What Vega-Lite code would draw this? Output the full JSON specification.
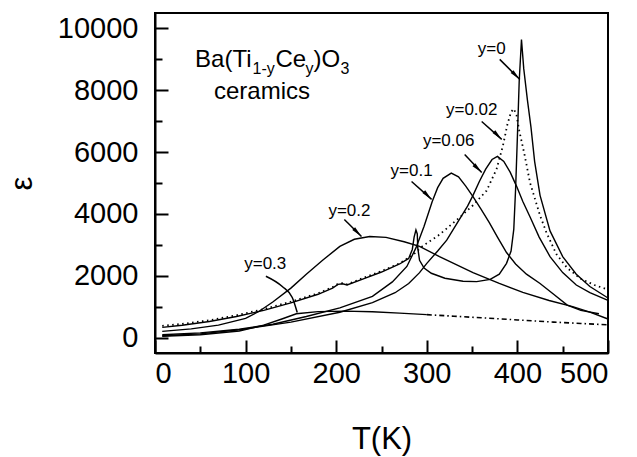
{
  "$schema": "https://vega.github.io/schema/vega-lite/v6.json",
  "width": 453,
  "height": 340,
  "autosize": {"type": "none"},
  "padding": {"left": 155, "top": 13, "right": 29, "bottom": 104},
  "background": "white",
  "config": {
    "view": {"stroke": "black", "strokeWidth": 2},
    "font": "Liberation Sans",
    "axis": {
      "domainColor": "black", "domainWidth": 2, "tickColor": "black", "tickWidth": 2,
      "grid": false, "labelColor": "black", "titleColor": "black", "labelFont": "Liberation Sans",
      "titleFont": "Liberation Sans", "titleFontWeight": "normal", "labelFontSize": 29, "titleFontSize": 31
    }
  },
  "encoding": {
    "x": {"field": "T", "type": "quantitative", "scale": {"domain": [0, 500], "nice": false, "zero": false},
      "axis": {"title": "T(K)", "values": [0,50,100,150,200,250,300,350,400,450,500], "format": "d",
        "labelExpr": "datum.value % 100 === 0 ? datum.label : ''",
        "tickSize": {"condition": {"test": "datum.value % 100 !== 0", "value": -7}, "value": -13},
        "labelPadding": 19, "titlePadding": 36}},
    "y": {"field": "e", "type": "quantitative", "scale": {"domain": [-500, 10500], "nice": false, "zero": false},
      "axis": {"title": "ε", "values": [0,1000,2000,3000,4000,5000,6000,7000,8000,9000,10000], "format": "d",
        "labelExpr": "datum.value % 2000 === 0 ? datum.label : ''",
        "tickSize": {"condition": {"test": "datum.value % 2000 !== 0", "value": -7}, "value": -13},
        "labelPadding": 30, "titlePadding": 19}}
  },
  "datasets": {
    "curves": [
      {"s":"y0","i":1,"T":8,"e":330},{"s":"y0","i":2,"T":30,"e":400},{"s":"y0","i":3,"T":60,"e":520},{"s":"y0","i":4,"T":90,"e":680},{"s":"y0","i":5,"T":120,"e":880},{"s":"y0","i":6,"T":150,"e":1120},{"s":"y0","i":7,"T":180,"e":1400},{"s":"y0","i":8,"T":196,"e":1600},{"s":"y0","i":9,"T":202,"e":1720},{"s":"y0","i":10,"T":207,"e":1740},{"s":"y0","i":11,"T":212,"e":1700},{"s":"y0","i":12,"T":230,"e":1900},{"s":"y0","i":13,"T":250,"e":2120},{"s":"y0","i":14,"T":270,"e":2380},{"s":"y0","i":15,"T":280,"e":2560},{"s":"y0","i":16,"T":284,"e":2850},{"s":"y0","i":17,"T":286,"e":3250},{"s":"y0","i":18,"T":288,"e":3480},{"s":"y0","i":19,"T":289.5,"e":3350},{"s":"y0","i":20,"T":290,"e":2900},{"s":"y0","i":21,"T":292,"e":2500},{"s":"y0","i":22,"T":297,"e":2250},{"s":"y0","i":23,"T":305,"e":2080},{"s":"y0","i":24,"T":320,"e":1920},{"s":"y0","i":25,"T":340,"e":1820},{"s":"y0","i":26,"T":355,"e":1810},{"s":"y0","i":27,"T":370,"e":1880},{"s":"y0","i":28,"T":380,"e":2050},{"s":"y0","i":29,"T":388,"e":2400},{"s":"y0","i":30,"T":393,"e":2800},{"s":"y0","i":31,"T":396,"e":3500},{"s":"y0","i":32,"T":398,"e":4800},{"s":"y0","i":33,"T":400,"e":6500},{"s":"y0","i":34,"T":402,"e":8300},{"s":"y0","i":35,"T":404.5,"e":9640},{"s":"y0","i":36,"T":407,"e":8700},{"s":"y0","i":37,"T":411,"e":7700},{"s":"y0","i":38,"T":415,"e":6800},{"s":"y0","i":39,"T":419,"e":5700},{"s":"y0","i":40,"T":425,"e":4600},{"s":"y0","i":41,"T":436,"e":3450},{"s":"y0","i":42,"T":450,"e":2620},{"s":"y0","i":43,"T":465,"e":2050},{"s":"y0","i":44,"T":480,"e":1650},{"s":"y0","i":45,"T":500,"e":1280},

      {"s":"y02","i":1,"T":8,"e":380},{"s":"y02","i":2,"T":30,"e":440},{"s":"y02","i":3,"T":60,"e":560},{"s":"y02","i":4,"T":90,"e":720},{"s":"y02","i":5,"T":120,"e":920},{"s":"y02","i":6,"T":150,"e":1160},{"s":"y02","i":7,"T":180,"e":1430},{"s":"y02","i":8,"T":196,"e":1630},{"s":"y02","i":9,"T":202,"e":1740},{"s":"y02","i":10,"T":207,"e":1760},{"s":"y02","i":11,"T":212,"e":1720},{"s":"y02","i":12,"T":230,"e":1930},{"s":"y02","i":13,"T":250,"e":2150},{"s":"y02","i":14,"T":270,"e":2400},{"s":"y02","i":15,"T":285,"e":2680},{"s":"y02","i":16,"T":295,"e":2950},{"s":"y02","i":17,"T":314,"e":3330},{"s":"y02","i":18,"T":336,"e":3880},{"s":"y02","i":19,"T":351,"e":4280},{"s":"y02","i":20,"T":366,"e":4750},{"s":"y02","i":21,"T":377,"e":5450},{"s":"y02","i":22,"T":384,"e":6200},{"s":"y02","i":23,"T":389,"e":6900},{"s":"y02","i":24,"T":393,"e":7300},{"s":"y02","i":25,"T":396,"e":7400},{"s":"y02","i":26,"T":399,"e":7200},{"s":"y02","i":27,"T":402,"e":6700},{"s":"y02","i":28,"T":405,"e":6300},{"s":"y02","i":29,"T":408,"e":5900},{"s":"y02","i":30,"T":414,"e":5000},{"s":"y02","i":31,"T":425,"e":3950},{"s":"y02","i":32,"T":432,"e":3400},{"s":"y02","i":33,"T":443,"e":2700},{"s":"y02","i":34,"T":455,"e":2250},{"s":"y02","i":35,"T":470,"e":1900},{"s":"y02","i":36,"T":485,"e":1700},{"s":"y02","i":37,"T":500,"e":1550},

      {"s":"y06","i":1,"T":8,"e":60},{"s":"y06","i":2,"T":50,"e":120},{"s":"y06","i":3,"T":93,"e":250},{"s":"y06","i":4,"T":150,"e":500},{"s":"y06","i":5,"T":204,"e":820},{"s":"y06","i":6,"T":240,"e":1130},{"s":"y06","i":7,"T":265,"e":1450},{"s":"y06","i":8,"T":280,"e":1750},{"s":"y06","i":9,"T":292,"e":2100},{"s":"y06","i":10,"T":300,"e":2400},{"s":"y06","i":11,"T":312,"e":2800},{"s":"y06","i":12,"T":322,"e":3150},{"s":"y06","i":13,"T":336,"e":3820},{"s":"y06","i":14,"T":345,"e":4250},{"s":"y06","i":15,"T":351,"e":4600},{"s":"y06","i":16,"T":358,"e":5050},{"s":"y06","i":17,"T":365,"e":5450},{"s":"y06","i":18,"T":372,"e":5760},{"s":"y06","i":19,"T":378,"e":5860},{"s":"y06","i":20,"T":385,"e":5700},{"s":"y06","i":21,"T":392,"e":5350},{"s":"y06","i":22,"T":399,"e":4900},{"s":"y06","i":23,"T":406,"e":4400},{"s":"y06","i":24,"T":414,"e":3900},{"s":"y06","i":25,"T":424,"e":3250},{"s":"y06","i":26,"T":436,"e":2620},{"s":"y06","i":27,"T":450,"e":2100},{"s":"y06","i":28,"T":465,"e":1700},{"s":"y06","i":29,"T":480,"e":1450},{"s":"y06","i":30,"T":500,"e":1200},

      {"s":"y1","i":1,"T":8,"e":90},{"s":"y1","i":2,"T":50,"e":150},{"s":"y1","i":3,"T":93,"e":270},{"s":"y1","i":4,"T":130,"e":430},{"s":"y1","i":5,"T":167,"e":680},{"s":"y1","i":6,"T":204,"e":960},{"s":"y1","i":7,"T":240,"e":1330},{"s":"y1","i":8,"T":262,"e":1800},{"s":"y1","i":9,"T":278,"e":2300},{"s":"y1","i":10,"T":288,"e":2900},{"s":"y1","i":11,"T":297,"e":3600},{"s":"y1","i":12,"T":306,"e":4400},{"s":"y1","i":13,"T":312,"e":4850},{"s":"y1","i":14,"T":318,"e":5150},{"s":"y1","i":15,"T":327,"e":5320},{"s":"y1","i":16,"T":335,"e":5200},{"s":"y1","i":17,"T":343,"e":4900},{"s":"y1","i":18,"T":351,"e":4560},{"s":"y1","i":19,"T":360,"e":4150},{"s":"y1","i":20,"T":369,"e":3720},{"s":"y1","i":21,"T":378,"e":3250},{"s":"y1","i":22,"T":388,"e":2750},{"s":"y1","i":23,"T":398,"e":2380},{"s":"y1","i":24,"T":410,"e":2050},{"s":"y1","i":25,"T":425,"e":1750},{"s":"y1","i":26,"T":440,"e":1400},{"s":"y1","i":27,"T":455,"e":1050},{"s":"y1","i":28,"T":470,"e":880},{"s":"y1","i":29,"T":490,"e":770},

      {"s":"y2","i":1,"T":8,"e":200},{"s":"y2","i":2,"T":40,"e":280},{"s":"y2","i":3,"T":70,"e":400},{"s":"y2","i":4,"T":100,"e":620},{"s":"y2","i":5,"T":115,"e":850},{"s":"y2","i":6,"T":130,"e":1150},{"s":"y2","i":7,"T":150,"e":1600},{"s":"y2","i":8,"T":167,"e":2050},{"s":"y2","i":9,"T":185,"e":2500},{"s":"y2","i":10,"T":204,"e":2950},{"s":"y2","i":11,"T":220,"e":3180},{"s":"y2","i":12,"T":237,"e":3270},{"s":"y2","i":13,"T":255,"e":3240},{"s":"y2","i":14,"T":275,"e":3100},{"s":"y2","i":15,"T":292,"e":2950},{"s":"y2","i":16,"T":314,"e":2620},{"s":"y2","i":17,"T":351,"e":2100},{"s":"y2","i":18,"T":380,"e":1750},{"s":"y2","i":19,"T":406,"e":1460},{"s":"y2","i":20,"T":435,"e":1200},{"s":"y2","i":21,"T":461,"e":1000},{"s":"y2","i":22,"T":480,"e":820},{"s":"y2","i":23,"T":500,"e":600},

      {"s":"y3a","i":1,"T":8,"e":40},{"s":"y3a","i":2,"T":50,"e":90},{"s":"y3a","i":3,"T":93,"e":210},{"s":"y3a","i":4,"T":120,"e":400},{"s":"y3a","i":5,"T":140,"e":600},{"s":"y3a","i":6,"T":156,"e":770},{"s":"y3a","i":7,"T":180,"e":840},{"s":"y3a","i":8,"T":210,"e":855},{"s":"y3a","i":9,"T":240,"e":835},{"s":"y3a","i":10,"T":270,"e":790},{"s":"y3a","i":11,"T":300,"e":740},

      {"s":"y3b","i":1,"T":300,"e":740},{"s":"y3b","i":2,"T":330,"e":690},{"s":"y3b","i":3,"T":360,"e":640},{"s":"y3b","i":4,"T":400,"e":570},{"s":"y3b","i":5,"T":440,"e":500},{"s":"y3b","i":6,"T":470,"e":455},{"s":"y3b","i":7,"T":500,"e":410}
    ],
    "arrows": [
      {"T":380.5,"e":9000,"T2":402.7,"e2":8350},
      {"T":360.6,"e":6990,"T2":382.7,"e2":6410},
      {"T":341.8,"e":5920,"T2":360.6,"e2":5340},
      {"T":283.2,"e":5050,"T2":305.3,"e2":4470},
      {"T":209,"e":3820,"T2":227.9,"e2":3270}
    ],
    "heads": [
      {"T":402.7,"e":8350},
      {"T":382.7,"e":6410},
      {"T":360.6,"e":5340},
      {"T":305.3,"e":4470},
      {"T":227.9,"e":3270}
    ],
    "curl": [
      {"i":1,"T":122.4,"e":1984},{"i":2,"T":140.5,"e":1650},{"i":3,"T":151.5,"e":1294},{"i":4,"T":157,"e":809}
    ],
    "labels": [
      {"T":371.7,"e":9320,"t":"y=0"},
      {"T":349.6,"e":7346,"t":"y=0.02"},
      {"T":324.1,"e":6343,"t":"y=0.06"},
      {"T":283.2,"e":5404,"t":"y=0.1"},
      {"T":214.6,"e":4110,"t":"y=0.2"},
      {"T":121.7,"e":2395,"t":"y=0.3"}
    ],
    "title": [
      {"k":"main","T":44.2,"e":8753,"t":"Ba(Ti"},
      {"k":"sub","T":107.6,"e":8527,"t":"1-y"},
      {"k":"main","T":133,"e":8753,"t":"Ce"},
      {"k":"sub","T":166.1,"e":8527,"t":"y"},
      {"k":"main","T":174.9,"e":8753,"t":")O"},
      {"k":"sub","T":204.7,"e":8527,"t":"3"},
      {"k":"center","T":118.1,"e":7718,"t":"ceramics"}
    ]
  },
  "layer": [
    {
      "data": {"name": "curves"},
      "transform": [{"filter": "indexof(['y0','y06','y1','y2','y3a'], datum.s) >= 0"}],
      "mark": {"type": "line", "color": "black", "strokeWidth": 1.4},
      "encoding": {
        "detail": {"field": "s"},
        "order": {"field": "i", "type": "quantitative"}
      }
    },
    {
      "data": {"name": "curves"},
      "transform": [{"filter": "datum.s === 'y02'"}],
      "mark": {"type": "line", "color": "black", "strokeWidth": 1.8, "strokeDash": [1.5, 3.5]},
      "encoding": {"order": {"field": "i", "type": "quantitative"}}
    },
    {
      "data": {"name": "curves"},
      "transform": [{"filter": "datum.s === 'y3b'"}],
      "mark": {"type": "line", "color": "black", "strokeWidth": 1.6, "strokeDash": [5, 3, 1.5, 3]},
      "encoding": {"order": {"field": "i", "type": "quantitative"}}
    },
    {
      "data": {"name": "arrows"},
      "mark": {"type": "rule", "color": "black", "strokeWidth": 1.5},
      "encoding": {
        "x2": {"field": "T2"},
        "y2": {"field": "e2"}
      }
    },
    {
      "data": {"name": "heads"},
      "mark": {"type": "point", "shape": "M0,0L0.4,2.2L-0.4,2.2Z", "filled": true, "color": "black", "opacity": 1, "size": 100, "angle": 135},
      "encoding": {}
    },
    {
      "data": {"name": "curl"},
      "mark": {"type": "line", "color": "black", "strokeWidth": 1.5, "interpolate": "monotone"},
      "encoding": {"order": {"field": "i", "type": "quantitative"}}
    },
    {
      "data": {"name": "labels"},
      "mark": {"type": "text", "fontSize": 17, "color": "black", "align": "center", "baseline": "middle"},
      "encoding": {"text": {"field": "t"}}
    },
    {
      "data": {"name": "title"},
      "transform": [{"filter": "datum.k === 'main'"}],
      "mark": {"type": "text", "fontSize": 24, "color": "black", "align": "left", "baseline": "alphabetic"},
      "encoding": {"text": {"field": "t"}}
    },
    {
      "data": {"name": "title"},
      "transform": [{"filter": "datum.k === 'sub'"}],
      "mark": {"type": "text", "fontSize": 16, "color": "black", "align": "left", "baseline": "alphabetic"},
      "encoding": {"text": {"field": "t"}}
    },
    {
      "data": {"name": "title"},
      "transform": [{"filter": "datum.k === 'center'"}],
      "mark": {"type": "text", "fontSize": 24, "color": "black", "align": "center", "baseline": "alphabetic"},
      "encoding": {"text": {"field": "t"}}
    }
  ]
}
